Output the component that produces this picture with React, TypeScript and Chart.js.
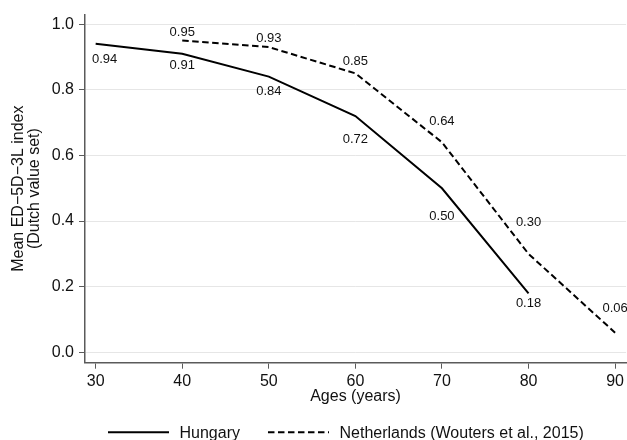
import React, { useEffect, useRef } from 'react';
import { Chart, registerables } from 'chart.js';

Chart.register(...registerables);

// ---- data ----
const hungaryAges = [30, 40, 50, 60, 70, 80];
const hungaryValues = [0.94, 0.91, 0.84, 0.72, 0.5, 0.18];
const netherlandsAges = [40, 50, 60, 70, 80, 90];
const netherlandsValues = [0.95, 0.93, 0.85, 0.64, 0.3, 0.06];
const seriesLabels = ['Hungary', 'Netherlands (Wouters et al., 2015)'];
const xTicks = [30, 40, 50, 60, 70, 80, 90];
const yTicks = [0, 0.2, 0.4, 0.6, 0.8, 1.0];
const xTitle = 'Ages (years)';
const yTitle = ['Mean ED\u22125D\u22123L index', '(Dutch value set)'];

// ---- label placement (pixel offsets from each point) ----
const hungaryLabelOffsets = [[9, 14], [0, 11], [0, 14], [0, 22.6], [0, 26.7], [0, 9.4]];
const netherlandsLabelOffsets = [[0, -8.8], [0, -9.7], [0, -13.5], [0, -22.4], [0, -32.6], [0, -25.8]];

const FONT = "'Liberation Sans', Arial, Helvetica, sans-serif";
const TEXT = '#111';
const AXIS = '#5a5a5a';
const GRID = '#e6e6e6';
const DASH = [6.5, 3.5];

const valueLabelPlugin = {
  id: 'valueLabels',
  afterDatasetsDraw(chart: any) {
    const ctx = chart.ctx;
    const sets = [
      { values: hungaryValues, offs: hungaryLabelOffsets },
      { values: netherlandsValues, offs: netherlandsLabelOffsets },
    ];
    ctx.save();
    ctx.font = `13px ${FONT}`;
    ctx.fillStyle = TEXT;
    ctx.textAlign = 'center';
    ctx.textBaseline = 'alphabetic';
    sets.forEach((s, i) => {
      const meta = chart.getDatasetMeta(i);
      meta.data.forEach((pt: any, j: number) => {
        const [dx, dy] = s.offs[j];
        ctx.fillText(s.values[j].toFixed(2), pt.x + dx, pt.y + dy + 4.7);
      });
    });
    ctx.restore();
  },
};

const legendPlugin = {
  id: 'customLegend',
  afterDraw(chart: any) {
    const ctx = chart.ctx;
    const y = 432.3;
    let x = 108;
    ctx.save();
    ctx.font = `16px ${FONT}`;
    ctx.textBaseline = 'middle';
    ctx.textAlign = 'left';
    chart.data.datasets.forEach((ds: any) => {
      ctx.beginPath();
      ctx.lineWidth = 2;
      ctx.strokeStyle = '#000';
      ctx.setLineDash(ds.borderDash || []);
      ctx.moveTo(x, y);
      ctx.lineTo(x + 61, y);
      ctx.stroke();
      ctx.setLineDash([]);
      x += 61 + 10.5;
      ctx.fillStyle = TEXT;
      ctx.fillText(ds.label, x, y + 1);
      x += ctx.measureText(ds.label).width + 28;
    });
    ctx.restore();
  },
};

export default function App() {
  const ref = useRef<HTMLCanvasElement | null>(null);
  useEffect(() => {
    if (!ref.current) return;
    const chart = new Chart(ref.current, {
      type: 'line',
      data: {
        datasets: [
          {
            label: seriesLabels[0],
            data: hungaryAges.map((a, i) => ({ x: a, y: hungaryValues[i] })),
            borderColor: '#000',
            borderWidth: 2,
            pointRadius: 0,
            tension: 0,
            fill: false,
          },
          {
            label: seriesLabels[1],
            data: netherlandsAges.map((a, i) => ({ x: a, y: netherlandsValues[i] })),
            borderColor: '#000',
            borderWidth: 2,
            borderDash: DASH,
            pointRadius: 0,
            tension: 0,
            fill: false,
          },
        ],
      },
      options: {
        responsive: false,
        animation: false,
        devicePixelRatio: 1,
        layout: { padding: { left: 0, right: 0, top: 12, bottom: 34 } },
        plugins: { legend: { display: false }, tooltip: { enabled: false } },
        scales: {
          x: {
            type: 'linear',
            min: 28.77,
            max: 91.27,
            afterBuildTicks: (s: any) => { s.ticks = xTicks.map((v) => ({ value: v })); },
            afterFit: (s: any) => { s.height = 43.3; },
            grid: { drawOnChartArea: false, tickLength: 6, tickColor: AXIS, tickWidth: 1 },
            border: { color: AXIS, width: 1.5 },
            ticks: { color: TEXT, font: { family: FONT, size: 16 }, padding: 3, maxRotation: 0, autoSkip: false },
            title: { display: true, text: xTitle, color: TEXT, font: { family: FONT, size: 16, lineHeight: 1.2 }, padding: 0 },
          },
          y: {
            type: 'linear',
            min: -0.0315,
            max: 1.029,
            afterBuildTicks: (s: any) => { s.ticks = yTicks.map((v) => ({ value: v })); },
            afterFit: (s: any) => { s.width = 85; },
            grid: { color: GRID, lineWidth: 1, tickLength: 6, tickColor: AXIS, tickWidth: 1 },
            border: { color: AXIS, width: 1.5 },
            ticks: { color: TEXT, font: { family: FONT, size: 16 }, padding: 5, callback: (v: any) => Number(v).toFixed(1), autoSkip: false },
            title: { display: true, text: yTitle, color: TEXT, font: { family: FONT, size: 16, lineHeight: 1.0 }, padding: { top: 11, bottom: 0 } },
          },
        },
      },
      plugins: [valueLabelPlugin, legendPlugin],
    } as any);
    return () => chart.destroy();
  }, []);
  return (
    <div style={{ position: 'absolute', left: 0, top: 0, width: 627, height: 440, background: '#fff' }}>
      <canvas ref={ref} width={627} height={440} style={{ display: 'block' }} />
    </div>
  );
}
